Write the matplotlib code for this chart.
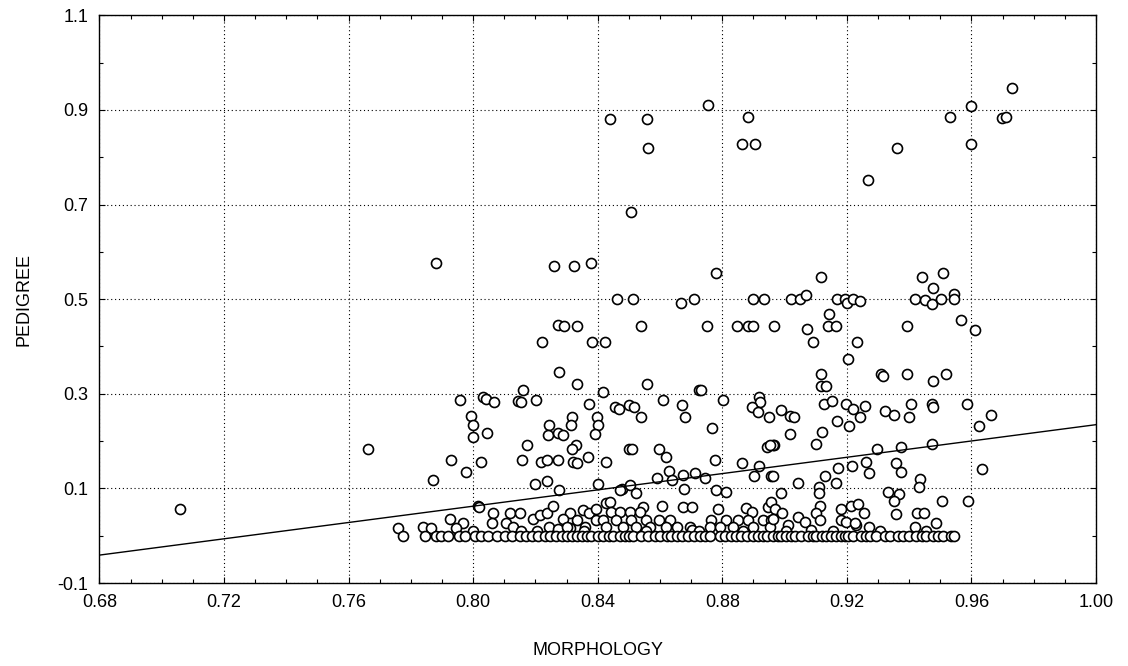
import numpy as np
import matplotlib
matplotlib.use('Agg')
import matplotlib.pyplot as plt
from matplotlib.ticker import MultipleLocator, FormatStrFormatter

plt.rcParams['font.family'] = ['Liberation Sans', 'DejaVu Sans']
plt.rcParams['font.size'] = 13

#%% data: (MORPHOLOGY, PEDIGREE)

# points above 0.4
high_pts = [
    (0.788, 0.577), (0.8439, 0.881), (0.8557, 0.881), (0.8562, 0.819), (0.8754, 0.910),
    (0.8883, 0.886), (0.8863, 0.828), (0.8906, 0.828), (0.8506, 0.684),
    (0.826, 0.570), (0.8325, 0.570), (0.838, 0.577), (0.8779, 0.555),
    (0.8461, 0.500), (0.8513, 0.500), (0.8669, 0.491), (0.8709, 0.500), (0.8899, 0.500),
    (0.8933, 0.500), (0.9022, 0.500), (0.9049, 0.500),
    (0.973, 0.947), (0.9599, 0.908), (0.953, 0.886), (0.9698, 0.882), (0.971, 0.886),
    (0.9599, 0.828), (0.9361, 0.820), (0.9269, 0.752),
    (0.9117, 0.546), (0.907, 0.509), (0.9143, 0.469), (0.9167, 0.500), (0.9193, 0.500),
    (0.920, 0.491), (0.922, 0.500), (0.9243, 0.497),
    (0.944, 0.546), (0.951, 0.555), (0.9476, 0.524), (0.9418, 0.500), (0.9452, 0.498),
    (0.9473, 0.490), (0.9501, 0.500), (0.9545, 0.510), (0.9545, 0.500), (0.9566, 0.457),
    (0.9392, 0.444), (0.961, 0.435),
    (0.822, 0.410), (0.8274, 0.445), (0.8291, 0.443), (0.8334, 0.443), (0.8381, 0.4095),
    (0.8424, 0.4095), (0.8538, 0.443), (0.8752, 0.443), (0.8847, 0.444), (0.8883, 0.443),
    (0.8899, 0.443), (0.8966, 0.443), (0.9072, 0.437), (0.9091, 0.410), (0.914, 0.443),
    (0.9165, 0.443), (0.9234, 0.4095),
]

# points between 0.2 and 0.4
mid_pts = [
    (0.9203, 0.3735), (0.9118, 0.342), (0.9116, 0.317), (0.9134, 0.3165), (0.9311, 0.342),
    (0.9316, 0.338), (0.9392, 0.342), (0.9476, 0.326), (0.9517, 0.342),
    (0.8275, 0.345), (0.8332, 0.321), (0.8417, 0.3045), (0.8558, 0.321), (0.8724, 0.308),
    (0.8731, 0.308),
    (0.7959, 0.287), (0.8032, 0.293), (0.8041, 0.290), (0.8066, 0.283),
    (0.7993, 0.252), (0.7998, 0.234), (0.7998, 0.209), (0.8043, 0.2165),
    (0.816, 0.308), (0.8144, 0.285), (0.8155, 0.283), (0.8203, 0.287),
    (0.8372, 0.278), (0.8455, 0.273), (0.8469, 0.267), (0.8398, 0.250), (0.8402, 0.234),
    (0.839, 0.2145), (0.8317, 0.2516), (0.8313, 0.2334), (0.8242, 0.234), (0.8241, 0.213),
    (0.8274, 0.2165), (0.8289, 0.213),
    (0.850, 0.276), (0.8518, 0.2727), (0.8539, 0.250), (0.8609, 0.287), (0.8672, 0.276),
    (0.868, 0.250), (0.8802, 0.287), (0.8767, 0.228),
    (0.8918, 0.294), (0.8922, 0.283), (0.8897, 0.273), (0.8916, 0.261), (0.895, 0.250),
    (0.899, 0.266), (0.9016, 0.252), (0.903, 0.250), (0.9016, 0.215),
    (0.9127, 0.278), (0.9152, 0.284), (0.9198, 0.278), (0.922, 0.267), (0.9257, 0.274),
    (0.9243, 0.250), (0.9167, 0.243), (0.9207, 0.232), (0.9121, 0.219),
    (0.9324, 0.263), (0.9351, 0.2545), (0.9407, 0.278), (0.9399, 0.250), (0.9474, 0.278),
    (0.9476, 0.273), (0.9586, 0.278), (0.9662, 0.2545), (0.9623, 0.232),
]

# points between 0.08 and 0.2
lowmid_pts = [
    (0.7663, 0.184), (0.7928, 0.160), (0.8025, 0.155), (0.787, 0.117), (0.7977, 0.135),
    (0.8172, 0.191), (0.8329, 0.191), (0.8317, 0.183), (0.8158, 0.160), (0.8218, 0.155),
    (0.8236, 0.160), (0.8271, 0.160), (0.8321, 0.155), (0.8334, 0.153), (0.837, 0.167),
    (0.8428, 0.155), (0.8199, 0.109), (0.8237, 0.116), (0.8276, 0.0966), (0.8401, 0.109),
    (0.850, 0.184), (0.8478, 0.098),
    (0.8509, 0.184), (0.8597, 0.184), (0.862, 0.167), (0.8776, 0.160), (0.8863, 0.154),
    (0.8944, 0.188), (0.8965, 0.191), (0.9298, 0.184), (0.9375, 0.188), (0.9472, 0.1945),
    (0.910, 0.193), (0.8963, 0.192), (0.8952, 0.192),
    (0.9172, 0.1425), (0.9216, 0.147), (0.926, 0.155), (0.9271, 0.133), (0.9359, 0.154),
    (0.9374, 0.135), (0.9635, 0.1416),
    (0.8589, 0.121), (0.8629, 0.1375), (0.864, 0.118), (0.8674, 0.128), (0.8712, 0.133),
    (0.8744, 0.121), (0.8503, 0.107), (0.8471, 0.0966), (0.8524, 0.091), (0.8676, 0.099),
    (0.8779, 0.0966), (0.8811, 0.093),
    (0.8901, 0.126), (0.8918, 0.147), (0.8955, 0.126), (0.8963, 0.126),
    (0.9129, 0.126), (0.9043, 0.112), (0.9165, 0.111), (0.911, 0.102), (0.911, 0.0896),
    (0.8988, 0.091), (0.9435, 0.1205), (0.9432, 0.1036), (0.9333, 0.093), (0.9366, 0.088),
]

# points between 0.005 and 0.08
low_pts = [
    (0.706, 0.057), (0.9353, 0.074), (0.9505, 0.0733), (0.9589, 0.074),
    (0.8017, 0.063), (0.8018, 0.060), (0.8063, 0.049), (0.7927, 0.035), (0.7968, 0.026),
    (0.7944, 0.016), (0.8059, 0.026), (0.7759, 0.017), (0.784, 0.018), (0.7863, 0.016),
    (0.8118, 0.047), (0.815, 0.049), (0.8107, 0.026), (0.8128, 0.019),
    (0.8193, 0.035), (0.8214, 0.044), (0.8236, 0.049), (0.8257, 0.063),
    (0.831, 0.049), (0.8289, 0.035), (0.8353, 0.054), (0.8332, 0.033), (0.8372, 0.047),
    (0.8396, 0.056), (0.8396, 0.033), (0.8428, 0.070), (0.8245, 0.019), (0.8273, 0.0135),
    (0.831, 0.016),
    (0.8441, 0.072), (0.8546, 0.061), (0.8605, 0.063), (0.8674, 0.060), (0.8704, 0.060),
    (0.8786, 0.0565), (0.8875, 0.058), (0.8897, 0.051), (0.8947, 0.060), (0.8958, 0.072),
    (0.8444, 0.051), (0.8471, 0.051), (0.8503, 0.051), (0.8535, 0.051),
    (0.8417, 0.033), (0.846, 0.033), (0.8508, 0.033), (0.8556, 0.033), (0.8597, 0.033),
    (0.8631, 0.033), (0.8765, 0.033), (0.8813, 0.033), (0.885, 0.033), (0.8882, 0.033),
    (0.893, 0.033), (0.8957, 0.033),
    (0.830, 0.019), (0.8359, 0.019), (0.8428, 0.019), (0.8481, 0.019), (0.8524, 0.019),
    (0.8567, 0.019), (0.8618, 0.019), (0.8653, 0.019), (0.8696, 0.019), (0.8704, 0.012),
    (0.876, 0.019), (0.8792, 0.019), (0.8835, 0.019), (0.8899, 0.019), (0.8952, 0.019),
    (0.9214, 0.063), (0.9236, 0.067), (0.9255, 0.049), (0.918, 0.056), (0.918, 0.033),
    (0.9115, 0.063), (0.9102, 0.047), (0.9113, 0.033), (0.8968, 0.056), (0.8993, 0.049),
    (0.8963, 0.035), (0.9043, 0.039), (0.9065, 0.030), (0.9011, 0.023), (0.9271, 0.019),
    (0.9231, 0.023), (0.9198, 0.030), (0.9225, 0.026),
    (0.9359, 0.046), (0.9426, 0.049), (0.9447, 0.049), (0.9487, 0.026), (0.9418, 0.019),
    (0.800, 0.010), (0.8155, 0.009), (0.8205, 0.011), (0.8355, 0.010), (0.8555, 0.009),
    (0.8725, 0.010), (0.8865, 0.011), (0.9005, 0.010), (0.9085, 0.012), (0.9155, 0.010),
    (0.9305, 0.009), (0.9455, 0.011),
]

# pedigree = 0 row
base_x = [
    0.7775, 0.7845, 0.7882, 0.7898, 0.7920, 0.7955, 0.7973, 0.8005, 0.8025, 0.8048,
    0.8075, 0.8102, 0.8125, 0.8150, 0.8171, 0.8190, 0.8209, 0.8230, 0.8246, 0.8265,
    0.8284, 0.8300, 0.8316, 0.8335, 0.8348, 0.8365, 0.8380, 0.8400, 0.8417, 0.8435,
    0.8449, 0.8470, 0.8487, 0.8500, 0.8514, 0.8540, 0.8560, 0.8583, 0.8600, 0.8621,
    0.8635, 0.8653, 0.8670, 0.8690, 0.8710, 0.8728, 0.8745, 0.8760, 0.8792, 0.8810,
    0.8829, 0.8845, 0.8861, 0.8880, 0.8899, 0.8915, 0.8931, 0.8945, 0.8963, 0.8979,
    0.8990, 0.9006, 0.9020, 0.9033, 0.9054, 0.9075, 0.9090, 0.9102, 0.9120, 0.9134,
    0.9150, 0.9166, 0.9180, 0.9193, 0.9205, 0.9220, 0.9247, 0.9260, 0.9274, 0.9295,
    0.9321, 0.9340, 0.9364, 0.9380, 0.9401, 0.9423, 0.9440, 0.9455, 0.9477, 0.9493,
    0.9510, 0.9536, 0.9545,
]
base_y = [0.0] * len(base_x)

# fitted line PEDIGREE = a + b * MORPHOLOGY
fit_a = -0.6268
fit_b = 0.8615

#%% collect
pts = np.array(high_pts + mid_pts + lowmid_pts + low_pts)
xs = np.concatenate([pts[:, 0], base_x])
ys = np.concatenate([pts[:, 1], base_y])

#%% plot
fig = plt.figure(figsize=(11.28, 6.66), dpi=100)
ax = fig.add_axes([0.0882, 0.1246, 0.9716 - 0.0882, 0.977 - 0.1246])

ax.plot(xs, ys, 'o', ms=7.2, mfc='white', mec='black', mew=1.2, zorder=3)

xline = np.array([0.68, 1.00])
ax.plot(xline, fit_a + fit_b * xline, color='black', lw=1.0, zorder=4)

ax.set_xlim(0.68, 1.00)
ax.set_ylim(-0.1, 1.1)
ax.xaxis.set_major_locator(MultipleLocator(0.04))
ax.xaxis.set_minor_locator(MultipleLocator(0.01))
ax.yaxis.set_major_locator(MultipleLocator(0.2))
ax.yaxis.set_minor_locator(MultipleLocator(0.1))
ax.set_yticks(np.arange(-0.1, 1.11, 0.2))
ax.xaxis.set_major_formatter(FormatStrFormatter('%.2f'))
ax.yaxis.set_major_formatter(FormatStrFormatter('%.1f'))

ax.tick_params(which='both', direction='in', top=True, right=True, colors='black')
ax.tick_params(which='major', length=4, width=0.8, labelsize=13, pad=8)
ax.tick_params(which='minor', length=3, width=0.8)

ax.grid(True, which='major', color='black', linestyle=(0, (1, 2.5)), linewidth=0.8)
for s in ax.spines.values():
    s.set_linewidth(1.0)

ax.set_xlabel('MORPHOLOGY', fontsize=13, labelpad=22)
ax.set_ylabel('PEDIGREE', fontsize=13, labelpad=18)

fig.savefig('out.png', dpi=100)
